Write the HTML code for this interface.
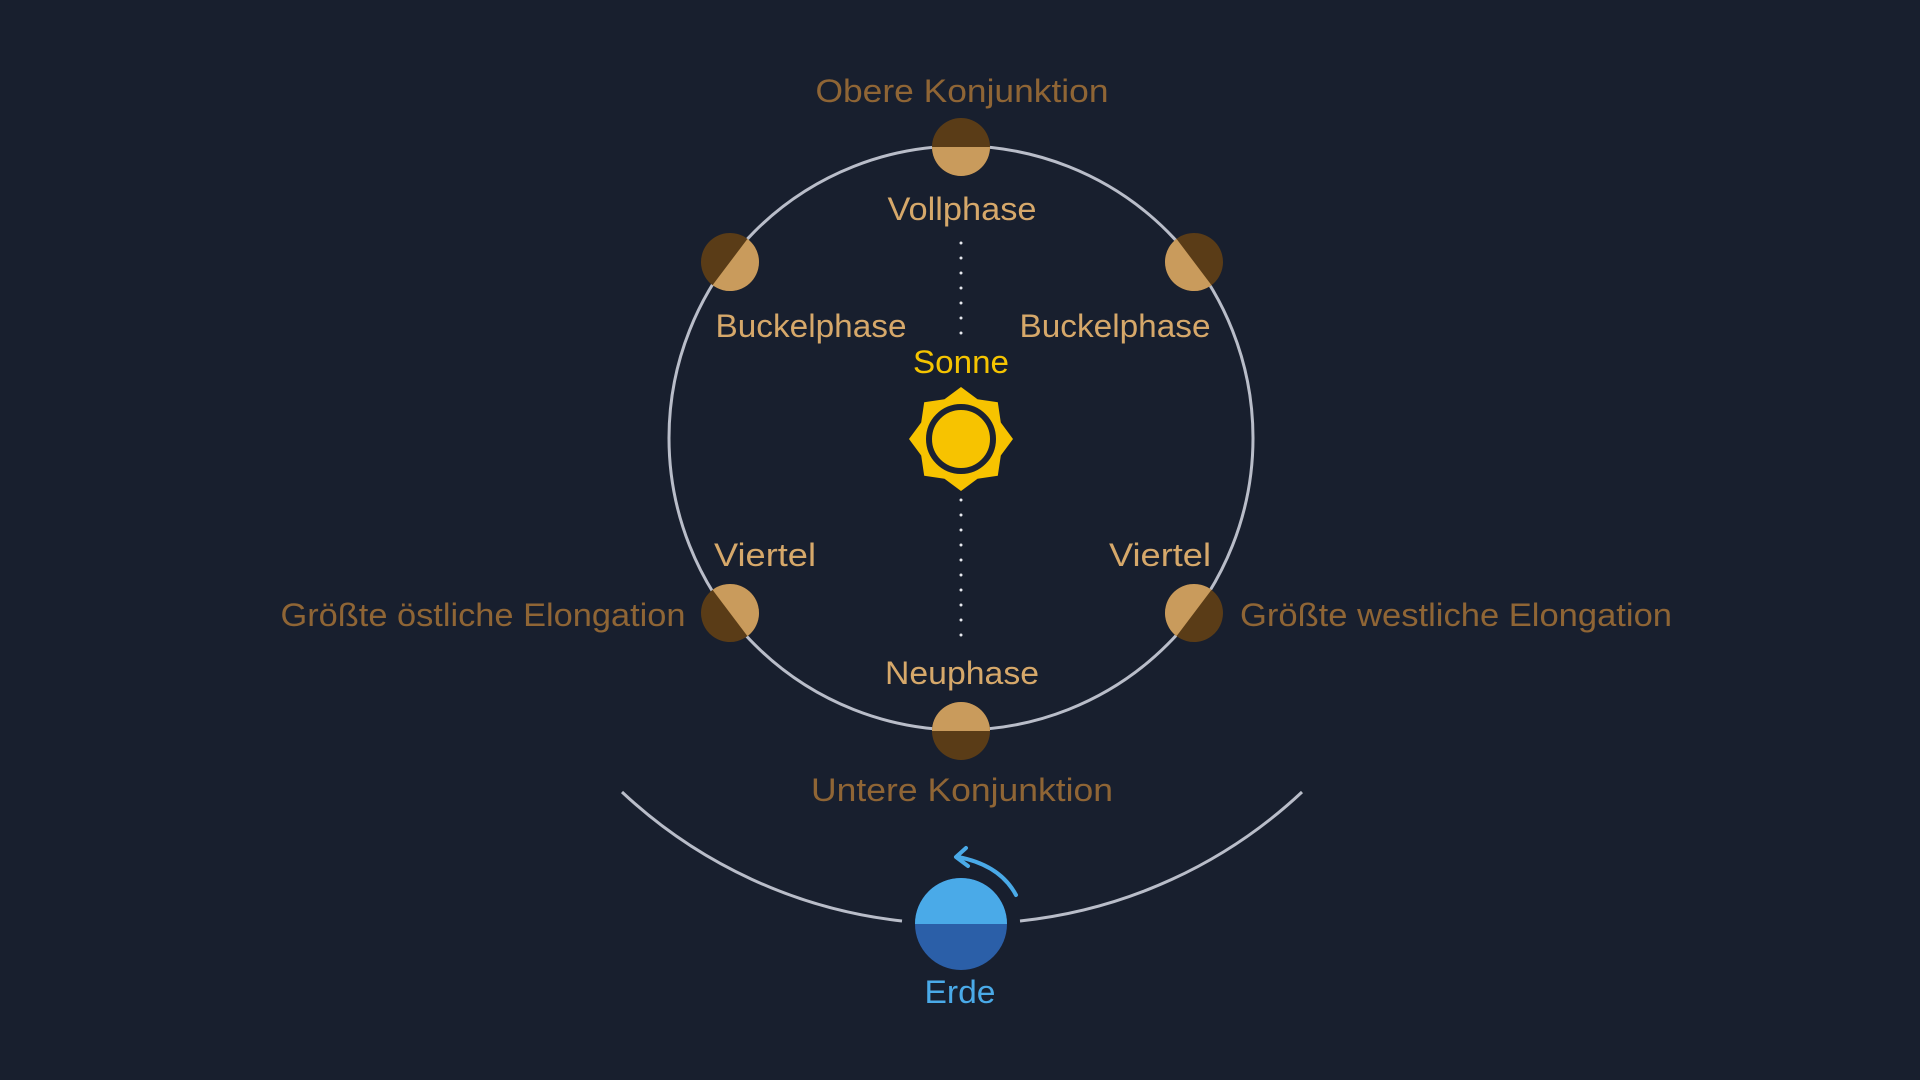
<!DOCTYPE html>
<html><head><meta charset="utf-8"><style>
html,body{margin:0;padding:0;background:#181f2e;}
svg{display:block}
text{font-family:"Liberation Sans",sans-serif;font-size:32px;text-anchor:middle}
.o{fill:#8f6535}.t{fill:#d6a86a}
</style></head><body>
<svg width="1920" height="1080" viewBox="0 0 1920 1080">
<rect width="1920" height="1080" fill="#181f2e"/>
<circle cx="961" cy="438" r="292" fill="none" stroke="#b9bdc9" stroke-width="3"/>
<path d="M622 792 A487 487 0 0 0 902 921" fill="none" stroke="#b9bdc9" stroke-width="3"/>
<path d="M1020 921 A487 487 0 0 0 1302 792" fill="none" stroke="#b9bdc9" stroke-width="3"/>
<line x1="961" y1="243" x2="961" y2="342" stroke="#e6e8ee" stroke-width="3" stroke-dasharray="0 15" stroke-linecap="round"/>
<line x1="961" y1="500" x2="961" y2="645" stroke="#e6e8ee" stroke-width="3" stroke-dasharray="0 15" stroke-linecap="round"/>
<!-- planets: light half toward sun -->
<g>
<g transform="translate(961,147) rotate(90)"><circle r="29" fill="#5a3c17"/><path d="M0 -29 A29 29 0 0 1 0 29Z" fill="#c99b5c"/></g>
<g transform="translate(730,262) rotate(37)"><circle r="29" fill="#5a3c17"/><path d="M0 -29 A29 29 0 0 1 0 29Z" fill="#c99b5c"/></g>
<g transform="translate(1194,262) rotate(143)"><circle r="29" fill="#5a3c17"/><path d="M0 -29 A29 29 0 0 1 0 29Z" fill="#c99b5c"/></g>
<g transform="translate(730,613) rotate(-37)"><circle r="29" fill="#5a3c17"/><path d="M0 -29 A29 29 0 0 1 0 29Z" fill="#c99b5c"/></g>
<g transform="translate(1194,613) rotate(-143)"><circle r="29" fill="#5a3c17"/><path d="M0 -29 A29 29 0 0 1 0 29Z" fill="#c99b5c"/></g>
<g transform="translate(961,731) rotate(-90)"><circle r="29" fill="#5a3c17"/><path d="M0 -29 A29 29 0 0 1 0 29Z" fill="#c99b5c"/></g>
</g>
<!-- sun -->
<g transform="translate(961,439)">
<polygon fill="#f7c300" points="0,-52 16.5,-39.8 36.8,-36.8 39.8,-16.5 52,0 39.8,16.5 36.8,36.8 16.5,39.8 0,52 -16.5,39.8 -36.8,36.8 -39.8,16.5 -52,0 -39.8,-16.5 -36.8,-36.8 -16.5,-39.8"/>
<circle r="32" fill="#f7c300" stroke="#1b2232" stroke-width="6"/>
</g>
<!-- earth -->
<g transform="translate(961,924)">
<circle r="46" fill="#2b5fa8"/>
<path d="M-46 0 A46 46 0 0 1 46 0Z" fill="#4aaae8"/>
</g>
<path d="M1016 895 Q1000 865 958 857" fill="none" stroke="#4aaae8" stroke-width="4" stroke-linecap="round"/>
<path d="M966 848 L956 857 L968 866" fill="none" stroke="#4aaae8" stroke-width="4" stroke-linecap="round" stroke-linejoin="round"/>
<!-- labels -->
<text class="o" x="962" y="102" textLength="293" lengthAdjust="spacingAndGlyphs">Obere Konjunktion</text>
<text class="t" x="962" y="220" textLength="149" lengthAdjust="spacingAndGlyphs">Vollphase</text>
<text class="t" x="811" y="337" textLength="191" lengthAdjust="spacingAndGlyphs">Buckelphase</text>
<text class="t" x="1115" y="337" textLength="191" lengthAdjust="spacingAndGlyphs">Buckelphase</text>
<text x="961" y="373" fill="#f5c400" textLength="96" lengthAdjust="spacingAndGlyphs">Sonne</text>
<text class="t" x="765" y="566" textLength="102" lengthAdjust="spacingAndGlyphs">Viertel</text>
<text class="t" x="1160" y="566" textLength="102" lengthAdjust="spacingAndGlyphs">Viertel</text>
<text class="o" x="483" y="626" textLength="405" lengthAdjust="spacingAndGlyphs">Größte östliche Elongation</text>
<text class="o" x="1456" y="626" textLength="432" lengthAdjust="spacingAndGlyphs">Größte westliche Elongation</text>
<text class="t" x="962" y="684" textLength="154" lengthAdjust="spacingAndGlyphs">Neuphase</text>
<text class="o" x="962" y="801" textLength="302" lengthAdjust="spacingAndGlyphs">Untere Konjunktion</text>
<text x="960" y="1003" fill="#4aaae8" textLength="71" lengthAdjust="spacingAndGlyphs">Erde</text>
</svg>
</body></html>
